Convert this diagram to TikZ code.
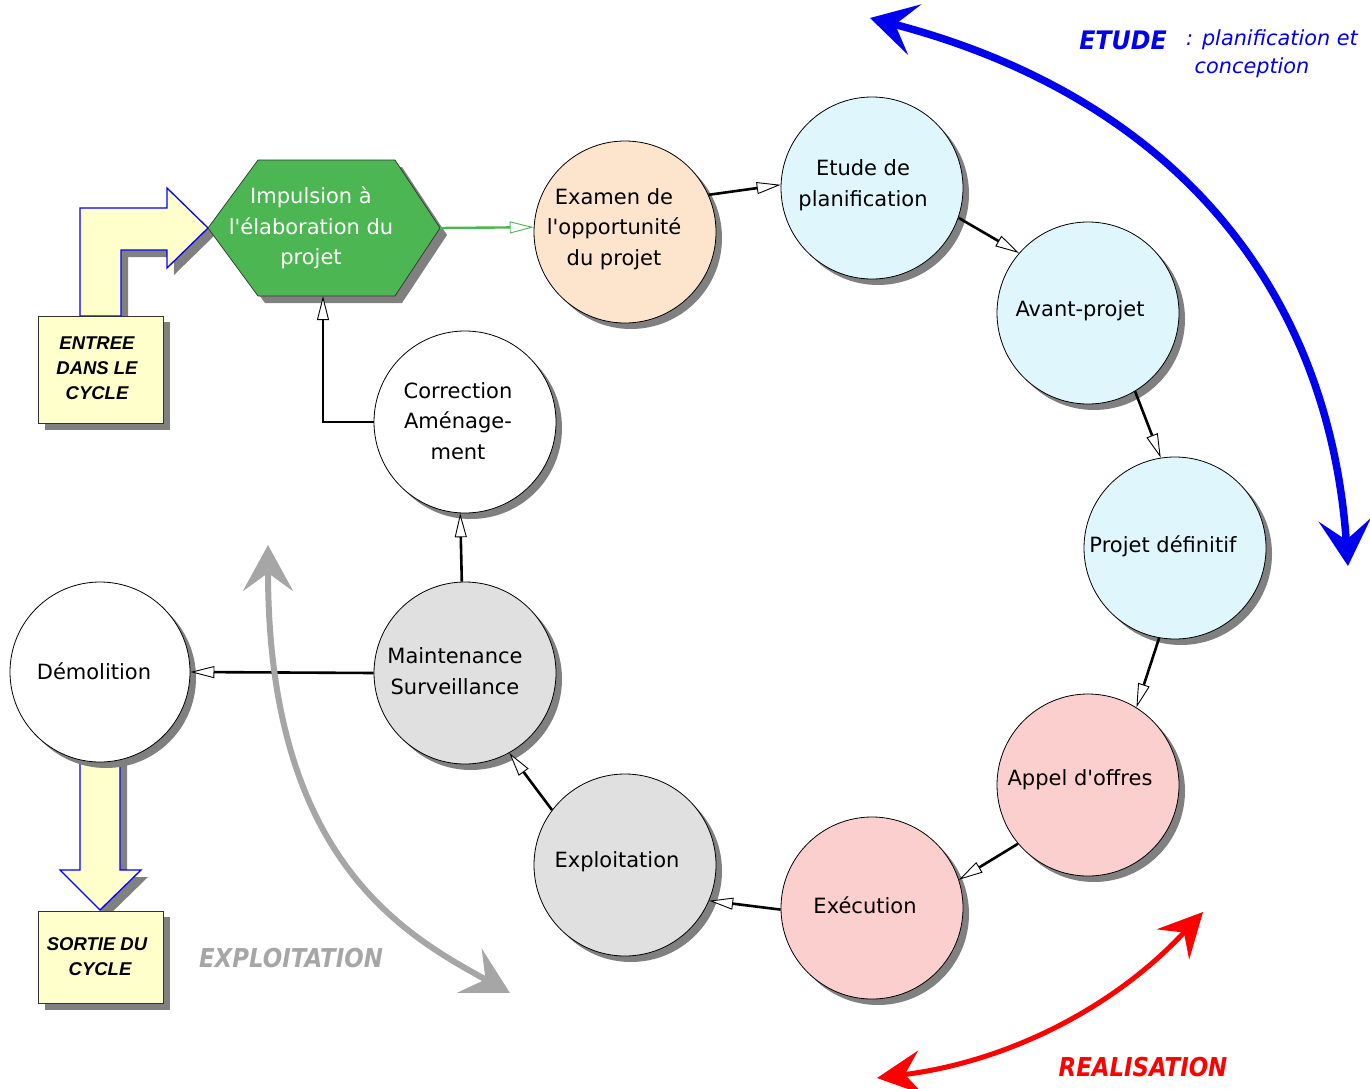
\documentclass[tikz,border=0pt]{standalone}
\usepackage{fontspec}
\usepackage{graphicx}
\setmainfont{DejaVu Sans}
\newfontfamily\boxfont{Liberation Sans}
\usetikzlibrary{arrows.meta,shadows}
\definecolor{peach}{RGB}{253,229,205}
\definecolor{lcyan}{RGB}{223,247,252}
\definecolor{lpink}{RGB}{252,207,207}
\definecolor{lgray}{RGB}{224,224,224}
\definecolor{hexgreen}{RGB}{76,183,82}
\definecolor{lyellow}{RGB}{255,255,204}
\definecolor{shgray}{RGB}{128,128,128}
\definecolor{arrgray}{RGB}{166,166,166}
\definecolor{etblue}{RGB}{0,0,240}
\definecolor{rered}{RGB}{255,0,0}
\newcommand\apos{\textquotesingle}
\tikzset{
  phase/.style={circle, draw=black, line width=0.8pt, minimum size=182pt, inner sep=0pt,
    drop shadow={shadow xshift=6pt, shadow yshift=-6pt, fill=shgray, opacity=1}},
  lbl/.style={align=center, font=\fontsize{21}{30.5}\selectfont, inner sep=0pt},
  boxtxt/.style={align=center, font=\boxfont\bfseries\itshape\fontsize{18.5}{25}\selectfont, inner sep=0pt},
  conn/.style={line width=2.6pt, draw=black, -{Triangle[length=24pt,width=12pt,fill=white,line width=0.9pt]}},
  greenconn/.style={line width=2.4pt, draw=hexgreen, -{Triangle[length=24pt,width=12pt,fill=white,line width=0.9pt]}},
}
\begin{document}
\begin{tikzpicture}[x=1pt,y=-1pt]
\useasboundingbox (0,0) rectangle (1370,1089);

% entry bent arrow
\fill[shgray, shift={(7,7)}] (80,316) -- (80,208) -- (167,208) -- (167,188) -- (208,228) -- (167,268) -- (167,250) -- (121,250) -- (121,316) -- cycle;
\filldraw[fill=lyellow, draw=blue, line width=1.3pt] (80,316) -- (80,208) -- (167,208) -- (167,188) -- (208,228) -- (167,268) -- (167,250) -- (121,250) -- (121,316) -- cycle;

% entry box
\fill[shgray] (45,322) rectangle (170,430);
\filldraw[fill=lyellow, draw=black!80, line width=0.7pt] (38,316) rectangle (163,423);
\node[boxtxt] (entree) at (97,368) {ENTREE\\DANS LE\\CYCLE};

% exit down arrow
\fill[shgray, shift={(7,7)}] (80,758) -- (80,870) -- (60,870) -- (100,910) -- (141,870) -- (120,870) -- (120,758) -- cycle;
\filldraw[fill=lyellow, draw=blue, line width=1.3pt] (80,758) -- (80,870) -- (60,870) -- (100,910) -- (141,870) -- (120,870) -- (120,758) -- cycle;

% exit box
\fill[shgray] (45,917) rectangle (170,1010);
\filldraw[fill=lyellow, draw=black!80, line width=0.7pt] (38,911) rectangle (163,1003);
\node[boxtxt] (sortie) at (97,957) {SORTIE DU\\\hspace*{6pt}CYCLE};

% hexagon
\fill[shgray, shift={(7,7)}] (208,228) -- (258,160) -- (395,160) -- (440,228) -- (395,296) -- (258,296) -- cycle;
\filldraw[fill=hexgreen, draw=black!80, line width=0.7pt] (208,228) -- (258,160) -- (395,160) -- (440,228) -- (395,296) -- (258,296) -- cycle;
\node[lbl, text=white] (hex) at (311,228) {Impulsion à\\l\apos élaboration du\\projet};
\coordinate (hexE) at (440,228);
\coordinate (hexS) at (323,296);

% phase circles
\node[phase, fill=peach] (exam) at (625,232) {};
\node[phase, fill=lcyan] (etude) at (872,188) {};
\node[phase, fill=lcyan] (avant) at (1088,313) {};
\node[phase, fill=lcyan] (projet) at (1175,548) {};
\node[phase, fill=lpink] (appel) at (1088,785) {};
\node[phase, fill=lpink] (exec) at (872,908) {};
\node[phase, fill=lgray] (exploit) at (625,865) {};
\node[phase, fill=lgray] (maint) at (465,673) {};
\node[phase, fill=white] (corr) at (465,422) {};
\node[phase, fill=white, minimum size=180pt] (demol) at (100,672) {};

% circle texts
\node[lbl] (examT) at (614,229) {Examen de\\l\apos opportunité\\du projet};
\node[lbl] (etudeT) at (863,185) {Etude de\\planification};
\node[lbl] (avantT) at (1080,311) {Avant-projet};
\node[lbl] (projetT) at (1163,546) {Projet définitif};
\node[lbl] (appelT) at (1080,780) {Appel d\apos offres};
\node[lbl] (execT) at (865,905) {Exécution};
\node[lbl] (exploitT) at (617,862) {Exploitation};
\node[lbl] (maintT) at (455,671) {Maintenance\\Surveillance};
\node[lbl] (corrT) at (458,421) {Correction\\Aménage-\\ment};
\node[lbl] (demolT) at (94,671) {Démolition};

% connectors
\draw[greenconn] (hexE) -- (exam.177);
\draw[conn] (exam.24) -- (etude.178);
\draw[conn] (etude.341) -- (avant.139);
\draw[conn] (avant.301) -- (projet.99);
\draw[conn] (projet.260) -- (appel.58);
\draw[conn] (appel.220) -- (exec.18);
\draw[conn] (exec.181) -- (exploit.337);
\draw[conn] (exploit.143) -- (maint.299);
\draw[conn] (maint.92) -- (corr.267);
\draw[conn] (corr.west) -| (hexS);
\draw[conn] (maint.west) -- (demol.east);

% big phase arrows
\coordinate (bA) at (870,18);
\coordinate (bB) at (1348,566);
\draw[etblue, line width=7.5pt, {Stealth[length=46pt,width=52pt,inset=20pt]}-{Stealth[length=46pt,width=52pt,inset=20pt]}]
  (bA) .. controls (1165,95) and (1328,280) .. (bB);
\coordinate (rA) at (877,1078);
\coordinate (rB) at (1203,912);
\draw[rered, line width=5pt, {Stealth[length=44pt,width=44pt,inset=16pt]}-{Stealth[length=44pt,width=44pt,inset=16pt]}]
  (rA) .. controls (1005,1062) and (1112,1010) .. (rB);
\coordinate (gA) at (268,545);
\coordinate (gB) at (510,993);
\draw[arrgray, line width=6pt, {Stealth[length=46pt,width=50pt,inset=18pt]}-{Stealth[length=46pt,width=50pt,inset=18pt]}]
  (gA) .. controls (268,860) and (405,935) .. (gB);

% phase labels
\node[text=etblue, inner sep=0pt, font=\bfseries\itshape\fontsize{25.5}{30}\selectfont] (etudeL) at (1123,40) {\scalebox{0.93}[1]{ETUDE}};
\node[text=etblue, inner sep=0pt, font=\itshape\fontsize{20.8}{28}\selectfont, anchor=west] (etudeL2) at (1186,40) {: planification et};
\node[text=etblue, inner sep=0pt, font=\itshape\fontsize{20.8}{28}\selectfont] (etudeL3) at (1252,68) {conception};
\node[text=rered, inner sep=0pt, font=\bfseries\itshape\fontsize{26}{30}\selectfont] (realL) at (1143,1067) {\scalebox{0.88}[1]{REALISATION}};
\node[text=arrgray, inner sep=0pt, font=\bfseries\itshape\fontsize{26}{30}\selectfont] (exploitL) at (291,958) {\scalebox{0.88}[1]{EXPLOITATION}};
\end{tikzpicture}
\end{document}
